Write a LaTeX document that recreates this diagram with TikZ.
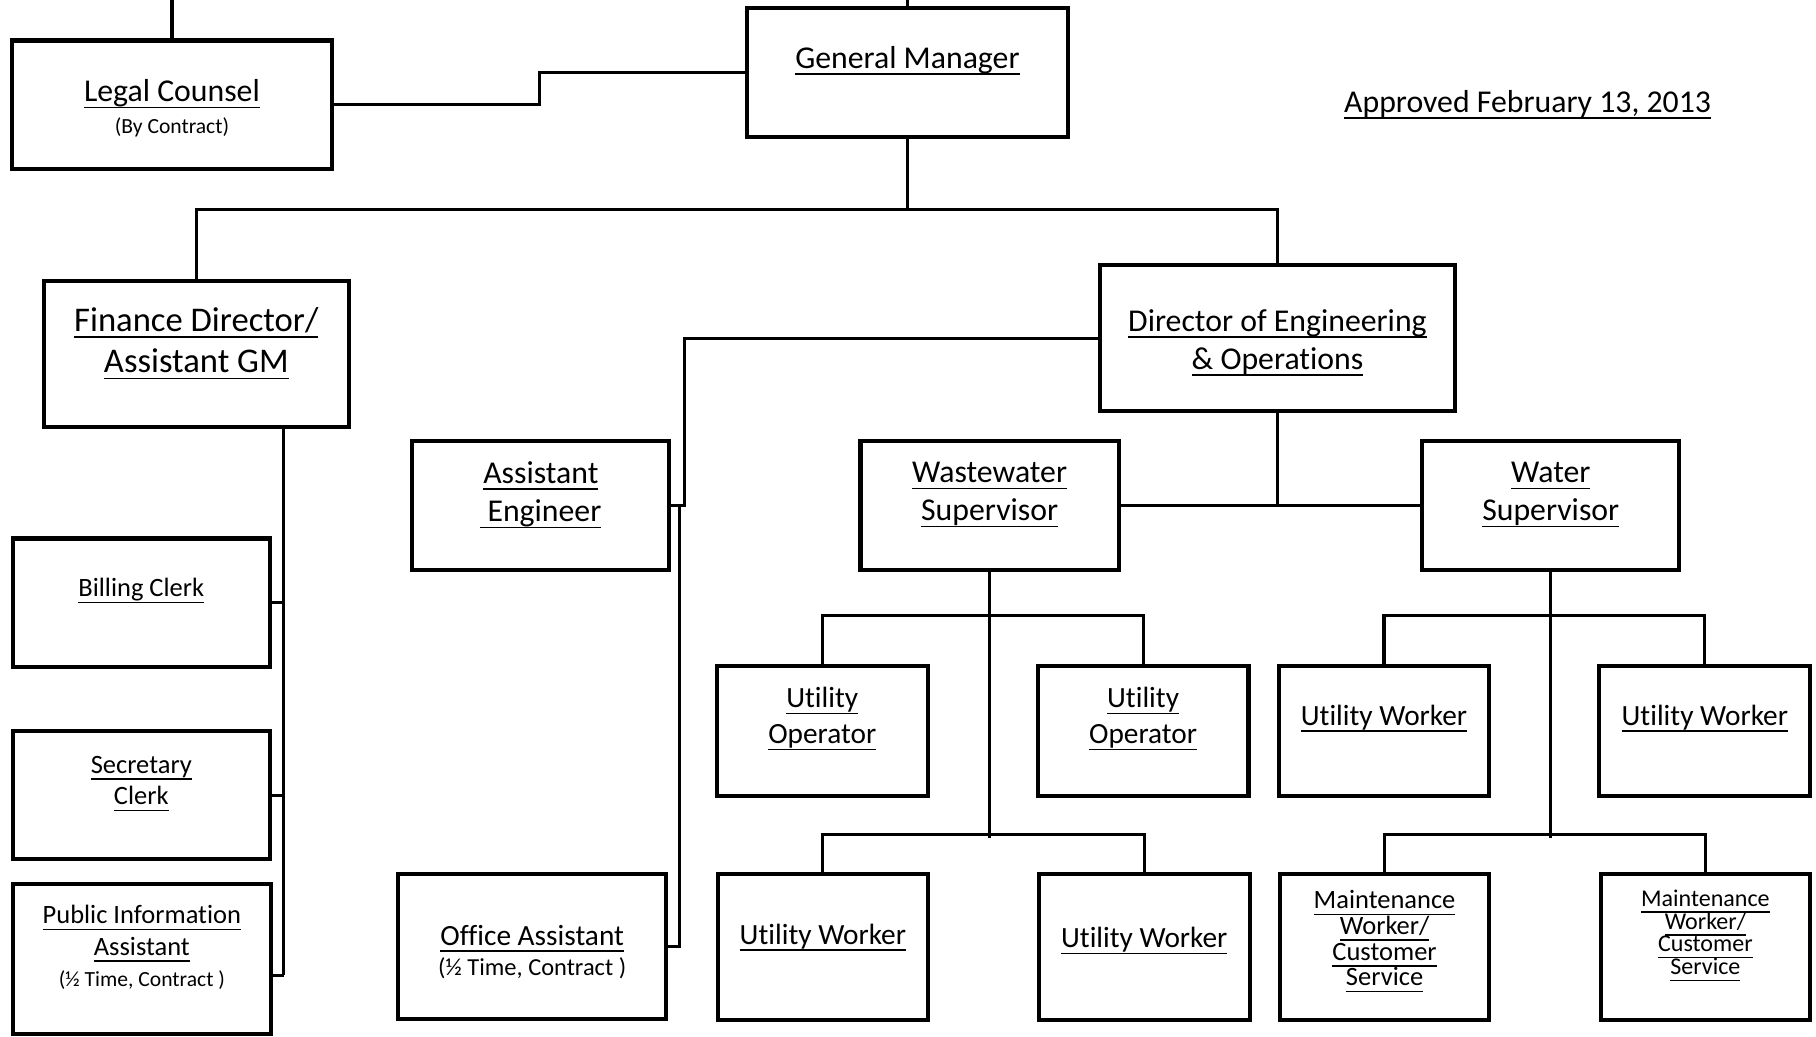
\documentclass[tikz,border=0pt]{standalone}
\usepackage{fontspec}
\setmainfont{Carlito}[Ligatures=NoCommon]
\newcommand{\ulx}[1]{\underline{\raisebox{0pt}[\height][0pt]{#1}}}
\newcommand{\fsz}[2]{\fontsize{#1}{#2}\selectfont\lineskiplimit=-20pt\relax}
\tikzset{
  post/.style 2 args={draw,line width=1pt,inner sep=0pt,
    minimum width=#1*0.01cm,minimum height=#2*0.01cm},
  link/.style={line width=0.75pt},
  ttl/.style={align=center,inner sep=0pt,yshift=-0.03cm,font=\fsz{7.8}{9.4}},
  ttlbig/.style={ttl,font=\fsz{8.5}{10.2}},
  ttlmid/.style={ttl,font=\fsz{7.2}{8.8}},
  ttlsm/.style={ttl,font=\fsz{6.5}{7.7}},
}
\begin{document}
\begin{tikzpicture}[x=0.01cm,y=-0.01cm]
  \useasboundingbox (0,0) rectangle (1568,895);
  \coordinate (top) at (0,0);
  \coordinate (gmbus) at (0,181);
  \coordinate (finbus) at (245,0);

  % boxes
  \node[post={277}{111}] (legal) at (148.5,90.5) {};
  \node[post={277}{111}] (gm) at (783.5,62.5) {};
  \node[post={263}{126}] (fin) at (169.5,306) {};
  \node[post={306}{126}] (dir) at (1103,292) {};
  \node[post={222}{111}] (aeng) at (467,436.5) {};
  \node[post={223}{111}] (wws) at (854.5,436.5) {};
  \node[post={222}{111}] (ws) at (1339,436.5) {};
  \node[post={222}{111}] (bill) at (122,520.5) {};
  \node[post={222}{111}] (sec) at (122,686.5) {};
  \node[post={223}{130}] (pia) at (122.5,828) {};
  \node[post={231}{125}] (office) at (459.5,817.5) {};
  \node[post={182}{112}] (uo1) at (710,631) {};
  \node[post={182}{112}] (uo2) at (987,631) {};
  \node[post={181}{126}] (uw1) at (710.5,818) {};
  \node[post={182}{126}] (uw2) at (988,818) {};
  \node[post={182}{112}] (wuw1) at (1195,631) {};
  \node[post={182}{112}] (wuw2) at (1472,631) {};
  \node[post={181}{126}] (mw1) at (1195.5,818) {};
  \node[post={181}{126}] (mw2) at (1472.5,818) {};

  % titles
  \node[ttl] (legal-t) at (148.5,90.5) {\ulx{Legal Counsel}\\[-1.7pt]{\fsz{5.3}{6}(By Contract)}};
  \node[ttl] (gm-t) at (783.5,50) {\ulx{General Manager}};
  \node[ttl] (approved) at (1319,88) {\ulx{Approved February 13, 2013}};
  \node[ttlbig] (fin-t) at (169.5,294) {\ulx{Finance Director/}\\\ulx{Assistant GM}};
  \node[ttl] (dir-t) at (1103,293.5) {\ulx{Director of Engineering}\\\ulx{\& Operations}};
  \node[ttl] (aeng-t) at (467,425) {\ulx{Assistant}\\\ulx{\ Engineer}};
  \node[ttl] (wws-t) at (854.5,425) {\ulx{Wastewater}\\\ulx{Supervisor}};
  \node[ttl] (ws-t) at (1339,425) {\ulx{Water}\\\ulx{Supervisor}};
  \node[ttlsm] (bill-t) at (122,508) {\ulx{Billing Clerk}};
  \node[ttlsm] (sec-t) at (122,674.5) {\ulx{Secretary}\\\ulx{Clerk}};
  \node[ttlsm] (pia-t) at (122.5,815) {\ulx{Public Information}\\\ulx{Assistant}\\{\fsz{5.3}{6.4}(½ Time, Contract )}};
  \node[ttlmid] (office-t) at (459.5,819) {\ulx{Office Assistant}\\[-1.3pt]{\fsz{6}{7.2}(½ Time, Contract )}};
  \node[ttlmid] (uo1-t) at (710,618.5) {\ulx{Utility}\\\ulx{Operator}};
  \node[ttlmid] (uo2-t) at (987,618.5) {\ulx{Utility}\\\ulx{Operator}};
  \node[ttlmid] (uw1-t) at (710.5,807) {\ulx{Utility Worker}};
  \node[ttlmid] (uw2-t) at (988,810) {\ulx{Utility Worker}};
  \node[ttlmid] (wuw1-t) at (1195,618) {\ulx{Utility Worker}};
  \node[ttlmid] (wuw2-t) at (1472,618) {\ulx{Utility Worker}};
  \node[ttl,font=\fsz{6.5}{6.3}] (mw1-t) at (1195.5,810.5) {\ulx{Maintenance}\\\ulx{Worker/}\\\ulx{Customer}\\\ulx{Service}};
  \node[ttl,font=\fsz{5.9}{5.6}] (mw2-t) at (1472.5,805.5) {\ulx{Maintenance}\\\ulx{Worker/}\\\ulx{Customer}\\\ulx{Service}};

  % lines
  \draw[link] (gm.north) -- (gm.north |- top);
  \draw[link] (legal.north) -- (legal.north |- top);
  \draw[link] (legal.east) -- (466,90.5) |- (gm.west);
  \draw[link] (gm.south) -- (gm.south |- gmbus);
  \draw[link] (fin.north) |- (dir.north |- gmbus) -- (dir.north);
  \draw[link] (dir.west) -| (591,436.5) -- (aeng.east);
  \draw[link] ([xshift=0.07cm]aeng.east) |- (office.east);
  \draw[link] (dir.south) -- (dir.south |- wws.east);
  \draw[link] (wws.east) -- (ws.west);
  % finance column
  \coordinate (piajoin) at ([yshift=-0.14cm]pia.east);
  \draw[link] (fin.south -| finbus) -- (piajoin -| finbus);
  \draw[link] (bill.east) -- (bill.east -| finbus);
  \draw[link] (sec.east) -- (sec.east -| finbus);
  \draw[link] (piajoin) -- (piajoin -| finbus);
  % wastewater
  \draw[link] (wws.south) -- ++(0,230);
  \draw[link] (uo1.north) -- ++(0,-42) -| (uo2.north);
  \draw[link] (uw1.north) -- ++(0,-33) -| (uw2.north);
  % water
  \draw[link] (ws.south) -- ++(0,230);
  \draw[link] (wuw1.north) -- ++(0,-42) -| (wuw2.north);
  \draw[link] (mw1.north) -- ++(0,-33) -| (mw2.north);
\end{tikzpicture}
\end{document}
